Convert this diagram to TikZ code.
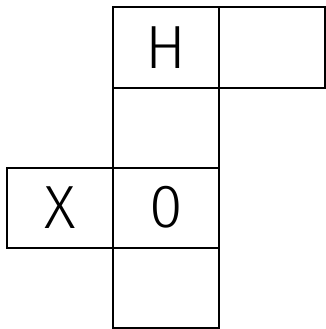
\documentclass[tikz,border=0pt]{standalone}
\usepackage{fontspec}
\setmainfont{Fira Sans Light}
\usepackage{tikz}
\usetikzlibrary{positioning}

\begin{document}
\begin{tikzpicture}[x=1pt, y=-1pt, node distance=0pt and 0pt, line width=2pt,
    cell/.style={rectangle, draw, outer sep=0pt, inner sep=0pt, minimum width=106pt, minimum height=80pt, font=\fontsize{61}{61}\selectfont}]
    \useasboundingbox (0,0) rectangle (326,329);
    \node[cell] (top) at (166,47.5) {H};
    \node[cell, right=of top] (side) {};
    \node[cell, below=of top] (mid) {};
    \node[cell, below=of mid] (centre) {0};
    \node[cell, left=of centre] (left) {X};
    \node[cell, below=of centre] (bottom) {};
\end{tikzpicture}
\end{document}
